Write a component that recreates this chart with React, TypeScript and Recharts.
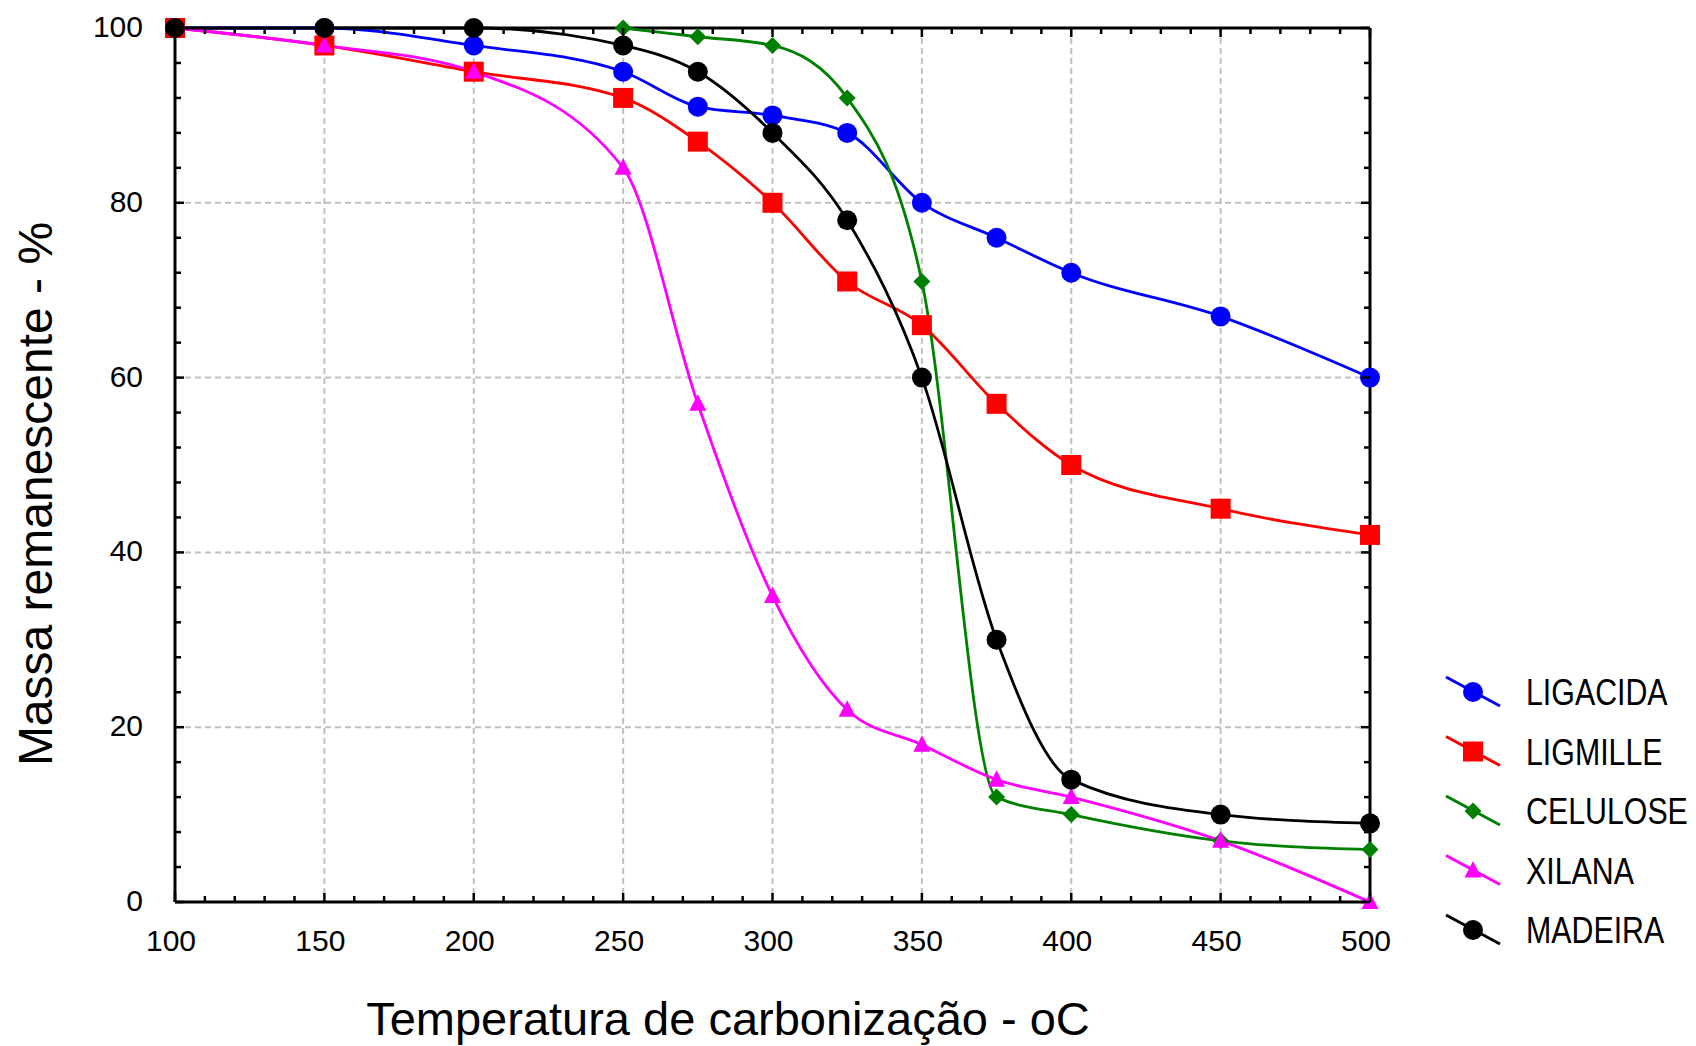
import React from 'react';
import { LineChart, Line, XAxis, YAxis, CartesianGrid, ReferenceLine } from 'recharts';

// ---- data ----
const TEMPS = [100, 150, 200, 250, 275, 300, 325, 350, 375, 400, 450, 500];
const LIGACIDA = [100, 100, 98, 95, 91, 90, 88, 80, 76, 72, 67, 60];
const LIGMILLE = [100, 98, 95, 92, 87, 80, 71, 66, 57, 50, 45, 42];
const CELULOSE: (number | null)[] = [null, null, null, 100, 99, 98, 92, 71, 12, 10, 7, 6];
const XILANA = [100, 98, 95, 84, 57, 35, 22, 18, 14, 12, 7, 0];
const MADEIRA = [100, 100, 100, 98, 95, 88, 78, 60, 30, 14, 10, 9];

const X_MAJOR = [100, 150, 200, 250, 300, 350, 400, 450, 500];
const Y_MAJOR = [0, 20, 40, 60, 80, 100];
const X_TICKS = Array.from({ length: 41 }, (_, i) => 100 + i * 10);
const Y_TICKS = Array.from({ length: 26 }, (_, i) => i * 4);
const X_GRID = [150, 200, 250, 300, 350, 400, 450];
const Y_GRID = [20, 40, 60, 80];

const X_TITLE = 'Temperatura de carbonização - oC';
const Y_TITLE = 'Massa remanescente - %';

type Shape = 'circle' | 'square' | 'diamond' | 'triangle';
const SERIES: { key: string; name: string; color: string; shape: Shape; values: (number | null)[] }[] = [
  { key: 'ligacida', name: 'LIGACIDA', color: '#0000ff', shape: 'circle', values: LIGACIDA },
  { key: 'ligmille', name: 'LIGMILLE', color: '#ff0000', shape: 'square', values: LIGMILLE },
  { key: 'celulose', name: 'CELULOSE', color: '#008000', shape: 'diamond', values: CELULOSE },
  { key: 'xilana', name: 'XILANA', color: '#ff00ff', shape: 'triangle', values: XILANA },
  { key: 'madeira', name: 'MADEIRA', color: '#000000', shape: 'circle', values: MADEIRA },
];

const DATA = TEMPS.map((t, i) => {
  const row: Record<string, number | null> = { t };
  SERIES.forEach((s) => {
    row[s.key] = s.values[i];
  });
  return row;
});

// ---- layout ----
const W = 1696;
const H = 1046;
const PLOT_LEFT = 175;
const PLOT_TOP = 28;
const PLOT_RIGHT = 1370;
const PLOT_BOTTOM = 902;
const Y_AXIS_W = 100;
const X_AXIS_H = 60;
const FONT = '"Liberation Sans", Arial, sans-serif';

function Marker({ shape, cx, cy, color }: { shape: Shape; cx: number; cy: number; color: string }) {
  if (shape === 'circle') return <circle cx={cx} cy={cy} r={10} fill={color} />;
  if (shape === 'square') return <rect x={cx - 10} y={cy - 10} width={20} height={20} fill={color} />;
  if (shape === 'diamond')
    return <polygon points={`${cx},${cy - 8.5} ${cx + 8.5},${cy} ${cx},${cy + 8.5} ${cx - 8.5},${cy}`} fill={color} />;
  return <polygon points={`${cx},${cy - 9.5} ${cx + 8.5},${cy + 7} ${cx - 8.5},${cy + 7}`} fill={color} />;
}

function XTick(props: any) {
  const { x, y, payload } = props;
  const v = payload.value;
  const major = X_MAJOR.includes(v);
  const len = major ? 9 : 6;
  return (
    <g>
      <line x1={x} y1={y} x2={x} y2={y - len} stroke="#000" strokeWidth={2.5} />
      <line x1={x} y1={PLOT_TOP} x2={x} y2={PLOT_TOP + len} stroke="#000" strokeWidth={2.5} />
      {major && (
        <text x={x - 4} y={y + 49} textAnchor="middle" fontSize={30} fontFamily={FONT} fill="#000">
          {v}
        </text>
      )}
    </g>
  );
}

function YTick(props: any) {
  const { x, y, payload } = props;
  const v = payload.value;
  const major = Y_MAJOR.includes(v);
  const len = major ? 9 : 6;
  return (
    <g>
      <line x1={x} y1={y} x2={x + len} y2={y} stroke="#000" strokeWidth={2.5} />
      <line x1={PLOT_RIGHT} y1={y} x2={PLOT_RIGHT - len} y2={y} stroke="#000" strokeWidth={2.5} />
      {major && (
        <text x={x - 32} y={y + 9} textAnchor="end" fontSize={30} fontFamily={FONT} fill="#000">
          {v}
        </text>
      )}
    </g>
  );
}

const LEGEND_TOP = 705;
const LEGEND_STEP = 59.5;

export default function App() {
  return (
    <div style={{ position: 'absolute', left: 0, top: 0, width: W, height: H, background: '#fff' }}>
      <LineChart
        width={W}
        height={H}
        data={DATA}
        margin={{
          top: PLOT_TOP,
          right: W - PLOT_RIGHT,
          bottom: H - PLOT_BOTTOM - X_AXIS_H,
          left: PLOT_LEFT - Y_AXIS_W,
        }}
        style={{ fontFamily: FONT }}
      >
        <CartesianGrid
          horizontalValues={Y_GRID}
          verticalValues={X_GRID}
          stroke="#c0c0c0"
          strokeWidth={2}
          strokeDasharray="6 4"
        />
        <XAxis
          dataKey="t"
          type="number"
          domain={[100, 500]}
          ticks={X_TICKS}
          interval={0}
          height={X_AXIS_H}
          tickSize={0}
          tickMargin={0}
          tickLine={false}
          axisLine={{ stroke: '#000', strokeWidth: 3 }}
          tick={(p: any) => <XTick {...p} />}
        />
        <YAxis
          type="number"
          domain={[0, 100]}
          ticks={Y_TICKS}
          interval={0}
          width={Y_AXIS_W}
          tickSize={0}
          tickMargin={0}
          tickLine={false}
          axisLine={{ stroke: '#000', strokeWidth: 3 }}
          tick={(p: any) => <YTick {...p} />}
        />
        <ReferenceLine y={100} stroke="#000" strokeWidth={3} />
        <ReferenceLine x={500} stroke="#000" strokeWidth={3} />
        {SERIES.map((s) => (
          <Line
            key={s.key}
            dataKey={s.key}
            name={s.name}
            type="monotone"
            stroke={s.color}
            strokeWidth={2.8}
            isAnimationActive={false}
            activeDot={false}
            dot={(p: any) => {
              const k = `${s.key}-${p.index}`;
              if (p.cx == null || p.cy == null || p.value == null) return <g key={k} />;
              return <Marker key={k} shape={s.shape} cx={p.cx} cy={p.cy} color={s.color} />;
            }}
          />
        ))}
      </LineChart>
      <svg
        width={W}
        height={H}
        style={{ position: 'absolute', left: 0, top: 0, pointerEvents: 'none' }}
      >
        <text x={728} y={1035} textAnchor="middle" fontSize={47} fontFamily={FONT} fill="#000">
          {X_TITLE}
        </text>
        <text
          x={52}
          y={494}
          textAnchor="middle"
          fontSize={48}
          fontFamily={FONT}
          fill="#000"
          transform="rotate(-90 52 494)"
        >
          {Y_TITLE}
        </text>
        {SERIES.map((s, i) => {
          const base = LEGEND_TOP + i * LEGEND_STEP;
          const cy = base - 13;
          return (
            <g key={s.key}>
              <line x1={1446} y1={cy - 15} x2={1500} y2={cy + 14} stroke={s.color} strokeWidth={3} />
              <Marker shape={s.shape} cx={1473} cy={cy} color={s.color} />
              <text
                transform={`translate(1526 ${base}) scale(0.82 1)`}
                fontSize={37}
                fontFamily={FONT}
                fill="#000"
              >
                {s.name}
              </text>
            </g>
          );
        })}
      </svg>
    </div>
  );
}
